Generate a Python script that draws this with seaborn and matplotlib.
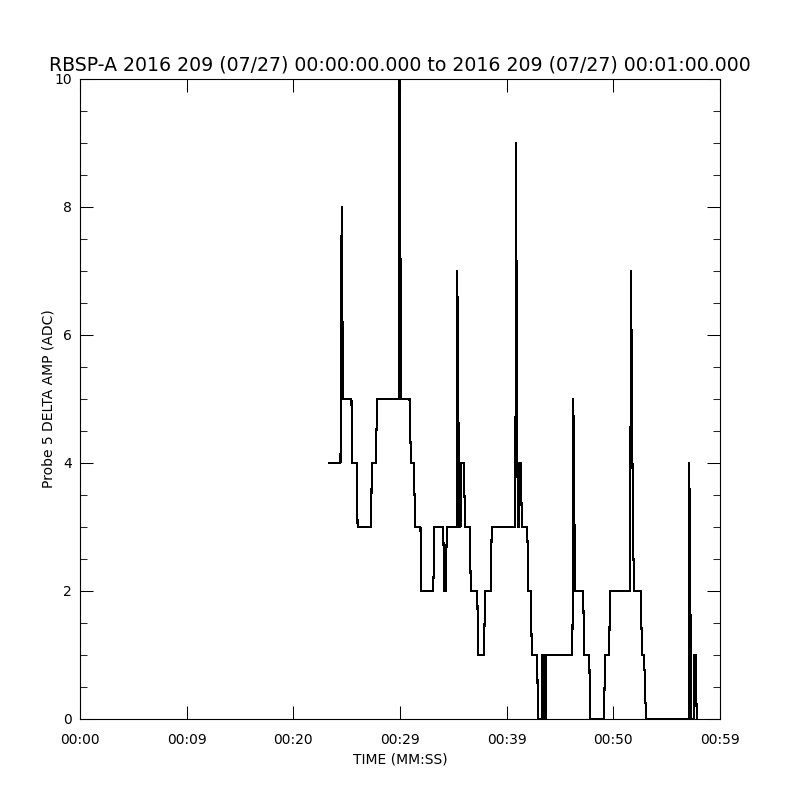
import numpy as np
import matplotlib
matplotlib.use("Agg")
import matplotlib.pyplot as plt
from matplotlib.ticker import MultipleLocator
import seaborn as sns

sns.set_style("ticks")
plt.rcParams['font.family'] = ['DejaVu Sans']

# time in seconds since 00:00:00 and probe amplitude (ADC)
times = [23.34, 24.42, 24.53, 24.66, 25.45, 25.50, 25.97, 26.02, 27.30, 27.35,
         27.75, 27.84, 29.88, 29.95, 30.12, 30.89, 31.03, 31.31, 31.41, 31.92,
         31.97, 33.12, 33.22, 34.06, 34.13, 34.31, 34.38, 35.30, 35.37, 35.56,
         35.67, 35.75, 36.00, 36.09, 36.56, 36.63, 37.25, 37.31, 37.88, 37.97,
         38.50, 38.60, 40.81, 40.88, 40.99, 41.11, 41.18, 41.34, 41.42, 41.93,
         42.03, 42.28, 42.35, 42.87, 42.92, 43.28, 43.34, 43.47, 43.52, 43.66,
         43.72, 46.15, 46.20, 46.25, 46.36, 46.42, 47.18, 47.25, 47.75, 47.81,
         49.13, 49.22, 49.62, 49.67, 51.56, 51.66, 51.84, 51.94, 52.57, 52.69,
         52.88, 53.06, 57.07, 57.12, 57.31, 57.53, 57.59, 57.75, 57.81, 57.89]
amp = [4, 4, 8, 5, 5, 4, 4, 3, 3, 4,
       4, 5, 5, 10, 5, 5, 4, 4, 3, 3,
       2, 2, 3, 3, 2, 2, 3, 3, 7, 3,
       3, 4, 4, 3, 3, 2, 2, 1, 1, 2,
       2, 3, 3, 9, 4, 3, 4, 4, 3, 3,
       2, 2, 1, 1, 0, 0, 1, 1, 0, 0,
       1, 1, 2, 5, 3, 2, 2, 1, 1, 0,
       0, 1, 1, 2, 2, 7, 3, 2, 2, 1,
       1, 0, 0, 4, 0, 0, 1, 1, 0, 0]

xticks = [0, 10, 20, 30, 40, 50, 60]
xticklabels = ['00:00', '00:09', '00:20', '00:29', '00:39', '00:50', '00:59']
yticks = [0, 2, 4, 6, 8, 10]

fig = plt.figure(figsize=(8, 8), dpi=100)
ax = fig.add_axes([0.1, 0.10125, 0.8, 0.8])

sns.lineplot(x=times, y=amp, estimator=None, sort=False, color='black',
             linewidth=0.75, antialiased=False, ax=ax)

ax.set_xlim(0, 60)
ax.set_ylim(0, 10)
ax.set_xticks(xticks)
ax.set_xticklabels(xticklabels)
ax.set_yticks(yticks)
ax.yaxis.set_minor_locator(MultipleLocator(0.5))

for side in ['top', 'right', 'bottom', 'left']:
    ax.spines[side].set_visible(True)
    ax.spines[side].set_linewidth(0.8)
    ax.spines[side].set_color('black')

ax.tick_params(axis='both', which='major', direction='in', length=9.5, width=0.75,
               top=True, right=True, labelsize=10, colors='black', pad=6)
ax.tick_params(axis='y', which='minor', direction='in', length=4.7, width=0.75,
               left=True, right=True)
ax.tick_params(axis='x', pad=10)

ax.set_xlabel('TIME (MM:SS)', fontsize=10, labelpad=4, color='black')
ax.set_ylabel('Probe 5 DELTA AMP (ADC)', fontsize=10, labelpad=-1, color='black')
ax.set_title('RBSP-A 2016 209 (07/27) 00:00:00.000 to 2016 209 (07/27) 00:01:00.000',
             fontsize=13.6, pad=6, color='black')

fig.savefig('out.png', dpi=100, facecolor='white')
